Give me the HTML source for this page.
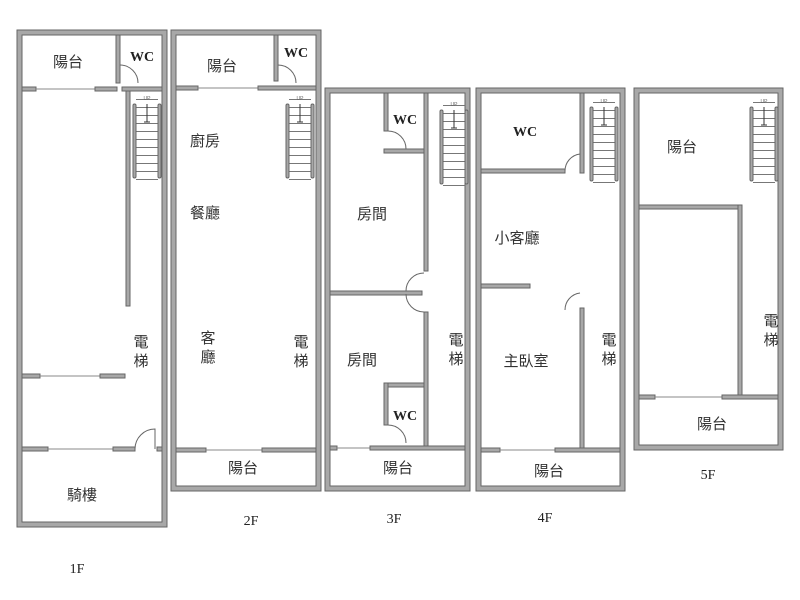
<!DOCTYPE html>
<html><head><meta charset="utf-8"><style>
html,body{margin:0;padding:0;background:#fff;}
svg{display:block;}
.t{font-family:"Liberation Sans","Noto Sans CJK TC",sans-serif;font-size:15px;fill:#333;text-anchor:middle;}
.w{font-family:"Liberation Serif",serif;font-size:14px;font-weight:bold;fill:#222;text-anchor:middle;}
.f{font-family:"Liberation Serif",serif;font-size:14px;fill:#222;text-anchor:middle;}
.wl{fill:#a8a8a8;stroke:#666;stroke-width:1;}
.ln{stroke:#888;stroke-width:1;fill:none;}
.dr{stroke:#666;stroke-width:1;fill:none;}
</style></head><body>
<svg width="800" height="600" viewBox="0 0 800 600" xmlns="http://www.w3.org/2000/svg">
<defs>
<pattern id="tr" width="10" height="8" patternUnits="userSpaceOnUse">
<line x1="0" y1="7.5" x2="10" y2="7.5" stroke="#777" stroke-width="1"/>
</pattern>
<g id="st">
<rect x="3" y="0" width="22" height="88" fill="url(#tr)"/>
<rect x="0" y="12" width="3" height="74" class="wl" rx="1.5"/>
<rect x="25" y="12" width="3" height="74" class="wl" rx="1.5"/>
<line x1="14" y1="12" x2="14" y2="30" stroke="#333"/>
<line x1="11" y1="30" x2="17" y2="30" stroke="#333"/>
<text x="14" y="8" font-size="5" text-anchor="middle" fill="#666" font-family="Liberation Sans,sans-serif">UP</text>
</g>
</defs>

<!-- 1F -->
<rect x="17" y="30" width="150" height="497" class="wl"/>
<rect x="22" y="35" width="140" height="487" fill="#fff" stroke="#666"/>
<rect x="116" y="35" width="4" height="48" class="wl"/>
<path d="M120 65 A18 18 0 0 1 138 83" class="dr"/>
<rect x="22" y="87" width="14" height="4" class="wl"/>
<line x1="36" y1="89" x2="95" y2="89" class="ln"/>
<rect x="95" y="87" width="22" height="4" class="wl"/>
<rect x="122" y="87" width="40" height="4" class="wl"/>
<rect x="126" y="91" width="4" height="215" class="wl"/>
<use href="#st" x="133" y="92"/>
<rect x="22" y="374" width="18" height="4" class="wl"/>
<line x1="40" y1="376" x2="100" y2="376" class="ln"/>
<rect x="100" y="374" width="25" height="4" class="wl"/>
<rect x="22" y="447" width="26" height="4" class="wl"/>
<line x1="48" y1="449" x2="113" y2="449" class="ln"/>
<rect x="113" y="447" width="22" height="4" class="wl"/>
<path d="M135 449 A20 20 0 0 1 155 429 L155 449" class="dr"/>
<rect x="157" y="447" width="5" height="4" class="wl"/>
<text class="t" x="68" y="67">陽台</text>
<text class="w" x="142" y="61">WC</text>
<text class="t" x="141" y="347">電</text>
<text class="t" x="141" y="366">梯</text>
<text class="t" x="82" y="500">騎樓</text>
<text class="f" x="77" y="573">1F</text>

<!-- 2F -->
<rect x="171" y="30" width="150" height="461" class="wl"/>
<rect x="176" y="35" width="140" height="451" fill="#fff" stroke="#666"/>
<rect x="274" y="35" width="4" height="46" class="wl"/>
<path d="M278 65 A18 18 0 0 1 296 83" class="dr"/>
<rect x="176" y="86" width="22" height="4" class="wl"/>
<line x1="198" y1="88" x2="258" y2="88" class="ln"/>
<rect x="258" y="86" width="58" height="4" class="wl"/>
<use href="#st" x="286" y="92"/>
<rect x="176" y="448" width="30" height="4" class="wl"/>
<line x1="206" y1="450" x2="262" y2="450" class="ln"/>
<rect x="262" y="448" width="54" height="4" class="wl"/>
<text class="t" x="222" y="71">陽台</text>
<text class="w" x="296" y="57">WC</text>
<text class="t" x="205" y="146">廚房</text>
<text class="t" x="205" y="218">餐廳</text>
<text class="t" x="208" y="343">客</text>
<text class="t" x="208" y="362">廳</text>
<text class="t" x="301" y="347">電</text>
<text class="t" x="301" y="366">梯</text>
<text class="t" x="243" y="473">陽台</text>
<text class="f" x="251" y="525">2F</text>

<!-- 3F -->
<rect x="325" y="88" width="145" height="403" class="wl"/>
<rect x="330" y="93" width="135" height="393" fill="#fff" stroke="#666"/>
<rect x="424" y="93" width="4" height="178" class="wl"/>
<rect x="424" y="312" width="4" height="136" class="wl"/>
<rect x="384" y="93" width="4" height="38" class="wl"/>
<path d="M388 131 A18 18 0 0 1 406 149" class="dr"/>
<rect x="384" y="149" width="40" height="4" class="wl"/>
<use href="#st" x="440" y="98"/>
<rect x="330" y="291" width="92" height="4" class="wl"/>
<path d="M406 291 A18 18 0 0 1 424 273" class="dr"/>
<path d="M406 294 A18 18 0 0 0 424 312" class="dr"/>
<rect x="384" y="383" width="40" height="4" class="wl"/>
<rect x="384" y="383" width="4" height="42" class="wl"/>
<path d="M388 425 A18 18 0 0 1 406 443" class="dr"/>
<rect x="330" y="446" width="7" height="4" class="wl"/>
<line x1="337" y1="448" x2="370" y2="448" class="ln"/>
<rect x="370" y="446" width="95" height="4" class="wl"/>
<text class="w" x="405" y="124">WC</text>
<text class="t" x="372" y="219">房間</text>
<text class="t" x="362" y="365">房間</text>
<text class="t" x="456" y="345">電</text>
<text class="t" x="456" y="364">梯</text>
<text class="w" x="405" y="420">WC</text>
<text class="t" x="398" y="473">陽台</text>
<text class="f" x="394" y="523">3F</text>

<!-- 4F -->
<rect x="476" y="88" width="149" height="403" class="wl"/>
<rect x="481" y="93" width="139" height="393" fill="#fff" stroke="#666"/>
<rect x="580" y="93" width="4" height="80" class="wl"/>
<rect x="580" y="308" width="4" height="140" class="wl"/>
<rect x="481" y="169" width="84" height="4" class="wl"/>
<path d="M565 171 A17 17 0 0 1 580 154" class="dr"/>
<rect x="481" y="284" width="49" height="4" class="wl"/>
<path d="M565 310 A17 17 0 0 1 580 293" class="dr"/>
<use href="#st" x="590" y="95"/>
<rect x="481" y="448" width="19" height="4" class="wl"/>
<line x1="500" y1="450" x2="555" y2="450" class="ln"/>
<rect x="555" y="448" width="65" height="4" class="wl"/>
<text class="w" x="525" y="136">WC</text>
<text class="t" x="517" y="243">小客廳</text>
<text class="t" x="526" y="366">主臥室</text>
<text class="t" x="609" y="345">電</text>
<text class="t" x="609" y="364">梯</text>
<text class="t" x="549" y="476">陽台</text>
<text class="f" x="545" y="522">4F</text>

<!-- 5F -->
<rect x="634" y="88" width="149" height="362" class="wl"/>
<rect x="639" y="93" width="139" height="352" fill="#fff" stroke="#666"/>
<rect x="639" y="205" width="103" height="4" class="wl"/>
<rect x="738" y="205" width="4" height="192" class="wl"/>
<use href="#st" x="750" y="95"/>
<rect x="639" y="395" width="16" height="4" class="wl"/>
<line x1="655" y1="397" x2="722" y2="397" class="ln"/>
<rect x="722" y="395" width="56" height="4" class="wl"/>
<text class="t" x="682" y="152">陽台</text>
<text class="t" x="771" y="326">電</text>
<text class="t" x="771" y="345">梯</text>
<text class="t" x="712" y="429">陽台</text>
<text class="f" x="708" y="479">5F</text>
</svg>
</body></html>
